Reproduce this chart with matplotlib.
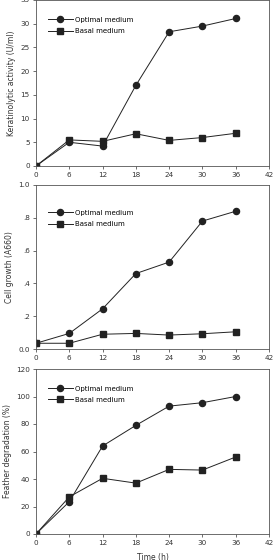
import matplotlib
matplotlib.use('Agg')
import matplotlib.pyplot as plt

# Time points (h)
time_h = [0, 6, 12, 18, 24, 30, 36]

# Keratinolytic activity (U/ml)
ker_optimal = [0, 5.0, 4.2, 17.0, 28.3, 29.5, 31.1]
ker_basal = [0, 5.5, 5.2, 6.8, 5.4, 6.0, 6.9]

# Cell growth (A660)
cell_optimal = [0.035, 0.095, 0.245, 0.46, 0.53, 0.78, 0.84]
cell_basal = [0.035, 0.035, 0.09, 0.095, 0.085, 0.093, 0.105]

# Feather degradation (%)
feath_optimal = [0, 23.5, 64, 79, 93, 95.5, 100]
feath_basal = [0, 27, 40.5, 37, 47, 46.5, 56]

x_ticks = [0, 6, 12, 18, 24, 30, 36, 42]

W, H = 274, 560
fig = plt.figure(figsize=(W / 100, H / 100), dpi=100)

line_c = '#222222'
spine_c = '#555555'
fs = 5.2


def px_axes(top, bottom, left=36, right=269):
    return fig.add_axes([left / W, (H - bottom) / H, (right - left) / W, (bottom - top) / H])


def style(ax, ylim, yticks, ylabels, ylabel, leg_y):
    ax.plot(time_h, ylim[2], color=line_c, lw=0.7, marker='o', ms=4.4, label='Optimal medium')
    ax.plot(time_h, ylim[3], color=line_c, lw=0.7, marker='s', ms=4.0, label='Basal medium')
    ax.set_xlim(0, 42)
    ax.set_ylim(ylim[0], ylim[1])
    ax.set_xticks(x_ticks)
    ax.set_yticks(yticks)
    ax.set_yticklabels(ylabels)
    ax.tick_params(labelsize=fs, length=2.5, width=0.5, colors='#333333', pad=2)
    for s in ax.spines.values():
        s.set_color(spine_c)
        s.set_linewidth(0.6)
    ax.set_ylabel(ylabel, fontsize=fs + 0.3, color='#333333', labelpad=3)
    ax.legend(loc='upper left', bbox_to_anchor=(0.035, leg_y), frameon=False, fontsize=fs - 0.2,
              handlelength=3.6, handletextpad=0.4, labelspacing=0.75, borderpad=0)


ax1 = px_axes(0, 166)
style(ax1, (0, 35, ker_optimal, ker_basal), range(0, 36, 5),
      [str(v) for v in range(0, 36, 5)], 'Keratinolytic activity (U/ml)', 0.92)

ax2 = px_axes(185, 349)
style(ax2, (0, 1.0, cell_optimal, cell_basal), [0, 0.2, 0.4, 0.6, 0.8, 1.0],
      ['0.0', '.2', '.4', '.6', '.8', '1.0'], 'Cell growth (A660)', 0.87)

ax3 = px_axes(369, 534)
style(ax3, (0, 120, feath_optimal, feath_basal), range(0, 121, 20),
      [str(v) for v in range(0, 121, 20)], 'Feather degradation (%)', 0.92)
ax3.set_xlabel('Time (h)', fontsize=fs + 0.3, color='#333333', labelpad=5)

fig.savefig('out.png', dpi=100)
